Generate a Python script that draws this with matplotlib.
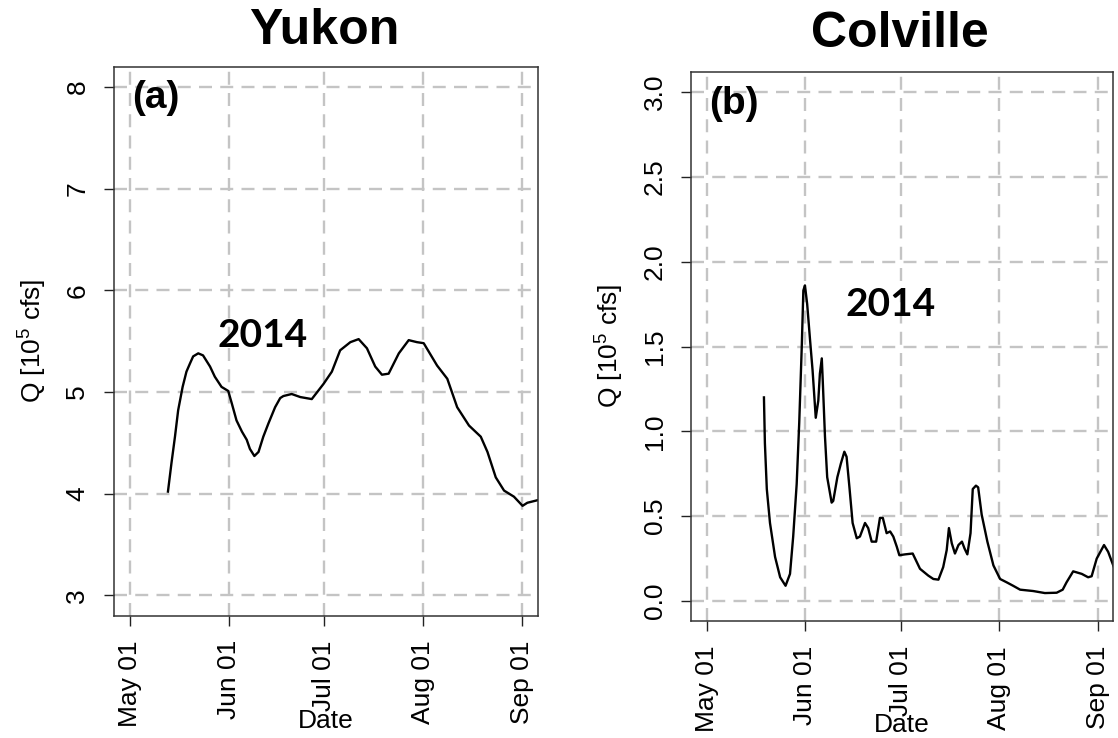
import datetime as dt
import matplotlib
matplotlib.use("Agg")
import matplotlib.pyplot as plt
import matplotlib.dates as mdates
import numpy as np

# Daily discharge, 2014 open-water season (days after 1 May, Q in 10^5 cfs)
yukon_day = [12.0, 13.1, 14.2, 15.2, 16.6, 17.8, 18.9, 19.9, 21.5, 23.0, 25.2,
             26.7, 28.8, 30.9, 32.0, 33.5, 35.2, 36.7, 37.7, 39.1, 40.4, 41.9,
             43.5, 45.6, 47.2, 48.2, 50.8, 53.5, 57.1, 60.8, 63.4, 66.0,
             69.2, 71.8, 74.4, 77.0, 79.1, 81.2, 84.4, 87.5, 90.1, 92.2, 96.4,
             99.6, 102.7, 106.4, 110.1, 112.2, 114.8, 117.4, 120.5, 123.2,
             124.7, 128.5]
yukon_q = [4.02, 4.30, 4.56, 4.82, 5.05, 5.20, 5.28, 5.35, 5.38, 5.36, 5.25,
           5.15, 5.05, 5.01, 4.89, 4.72, 4.61, 4.53, 4.44, 4.37, 4.41, 4.56,
           4.69, 4.85, 4.94, 4.96, 4.98, 4.95, 4.93, 5.08, 5.20, 5.41,
           5.49, 5.52, 5.43, 5.25, 5.17, 5.18, 5.38, 5.51, 5.49, 5.48, 5.26,
           5.13, 4.85, 4.67, 4.56, 4.41, 4.16, 4.03, 3.97, 3.88,
           3.91, 3.94]

colville_day = [18.0, 18.3, 18.9, 19.9, 21.5, 23.1, 24.8, 26.2, 27.2, 28.3,
                29.1, 29.9, 30.4, 30.9, 31.6, 32.5, 33.3, 34.3, 35.1, 35.6,
                36.2, 36.5, 37.2, 37.9, 39.3, 39.8, 41.1, 42.2, 43.3, 44.0,
                44.9, 45.9, 47.2, 48.2, 49.8, 50.8, 51.9, 53.3, 54.5, 55.4,
                56.6, 57.7, 58.7, 59.8, 60.6, 62.4, 64.8, 67.1, 69.7, 71.3,
                72.9, 74.4, 75.5, 76.2, 77.1, 78.1, 79.2, 80.3, 81.1, 82.0,
                83.0, 83.7, 84.7, 85.4, 86.5, 88.3, 90.2, 92.3, 94.4, 96.4,
                98.6, 102.7, 106.4, 110.1, 112.0, 113.2, 115.3, 118.0, 120.0,
                121.1, 122.7, 125.0, 126.3, 128.5]
colville_q = [1.20, 0.93, 0.66, 0.46, 0.26, 0.14, 0.09, 0.16, 0.38, 0.69,
              1.05, 1.50, 1.83, 1.86, 1.75, 1.54, 1.36, 1.08, 1.18, 1.34,
              1.43, 1.30, 0.97, 0.73, 0.58, 0.59, 0.73, 0.81, 0.88, 0.85,
              0.67, 0.46, 0.37, 0.38, 0.46, 0.43, 0.35, 0.35, 0.49, 0.49,
              0.40, 0.41, 0.38, 0.32, 0.27, 0.275, 0.28, 0.19, 0.15, 0.13,
              0.126, 0.20, 0.30, 0.43, 0.34, 0.28, 0.33, 0.35, 0.31, 0.275,
              0.40, 0.66, 0.68, 0.67, 0.51, 0.35, 0.21, 0.13, 0.11, 0.09,
              0.067, 0.059, 0.047, 0.049, 0.067, 0.11, 0.175, 0.16, 0.14,
              0.146, 0.25, 0.33, 0.29, 0.18]

month_ticks = ["2014-05-01", "2014-06-01", "2014-07-01", "2014-08-01", "2014-09-01"]
yukon_yticks = [3, 4, 5, 6, 7, 8]
colville_yticks = [0.0, 0.5, 1.0, 1.5, 2.0, 2.5, 3.0]
titles = ["Yukon", "Colville"]
panel_tags = ["(a)", "(b)"]
year_label = "2014"

W, H = 1118, 738
plt.rcParams["font.family"] = ["Liberation Sans", "DejaVu Sans"]
plt.rcParams["mathtext.default"] = "regular"

fig = plt.figure(figsize=(W / 100, H / 100), dpi=100)


def frac(x0, y0, x1, y1):
    """Pixel box (top-left origin) to figure fraction rect."""
    return [x0 / W, 1 - y1 / H, (x1 - x0) / W, (y1 - y0) / H]


base = mdates.date2num(dt.date(2014, 5, 1))
tick_nums = [mdates.date2num(dt.date.fromisoformat(d)) for d in month_ticks]
span = tick_nums[-1] - tick_nums[0]
xpad = 0.04 * span


def style_axes(ax, yticks, yfmt):
    ax.set_xlim(tick_nums[0] - xpad, tick_nums[-1] + xpad)
    ypad = 0.04 * (yticks[-1] - yticks[0])
    ax.set_ylim(yticks[0] - ypad, yticks[-1] + ypad)
    ax.set_xticks(tick_nums)
    ax.xaxis.set_major_formatter(mdates.DateFormatter("%b %d"))
    ax.set_yticks(yticks)
    ax.set_yticklabels([yfmt.format(v) for v in yticks])
    ax.tick_params(axis="both", direction="out", length=7.2, width=1.0,
                   color="#222222", labelsize=19, labelcolor="black", pad=10.5)
    for lab in ax.get_xticklabels():
        lab.set_rotation(90)
    for lab in ax.get_yticklabels():
        lab.set_rotation(90)
        lab.set_va("center")
    for sp in ax.spines.values():
        sp.set_linewidth(1.1)
        sp.set_color("#333333")
    ax.grid(True, color="#c4c4c4", linewidth=1.7, linestyle=(0, (5.5, 3.5)))
    ax.set_axisbelow(True)


series = [
    (frac(114, 66.7, 537.6, 615.6), yukon_day, yukon_q, yukon_yticks, "{:d}"),
    (frac(691.1, 71.6, 1113.3, 621.4), colville_day, colville_q, colville_yticks, "{:.1f}"),
]
title_pos = [(324, 31), (900, 34)]
tag_pos = [(156, 98), (734, 104)]
year_pos = [(263, 335), (891, 304)]
ylab_pos = [(33, 341), (610, 346)]
date_pos = [(326, 721), (902, 725)]

for i, (rect, days, q, yt, fmt) in enumerate(series):
    ax = fig.add_axes(rect)
    style_axes(ax, yt, fmt)
    ax.plot(base + np.asarray(days), q, color="black", linewidth=1.7,
            solid_joinstyle="round")
    fig.text(title_pos[i][0] / W, 1 - title_pos[i][1] / H, titles[i],
             ha="center", va="center", fontsize=36, fontweight="bold")
    fig.text(tag_pos[i][0] / W, 1 - tag_pos[i][1] / H, panel_tags[i],
             ha="center", va="center", fontsize=28, fontweight="bold")
    fig.text(year_pos[i][0] / W, 1 - year_pos[i][1] / H, year_label,
             ha="center", va="center", fontsize=28, fontweight="bold",
             family=["Lato", "DejaVu Sans"])
    fig.text(ylab_pos[i][0] / W, 1 - ylab_pos[i][1] / H, r"Q [10$^{5}$ cfs]",
             ha="center", va="center", rotation=90, fontsize=19)
    fig.text(date_pos[i][0] / W, 1 - date_pos[i][1] / H, "Date",
             ha="center", va="center", fontsize=19)

fig.savefig("out.png", dpi=100)
